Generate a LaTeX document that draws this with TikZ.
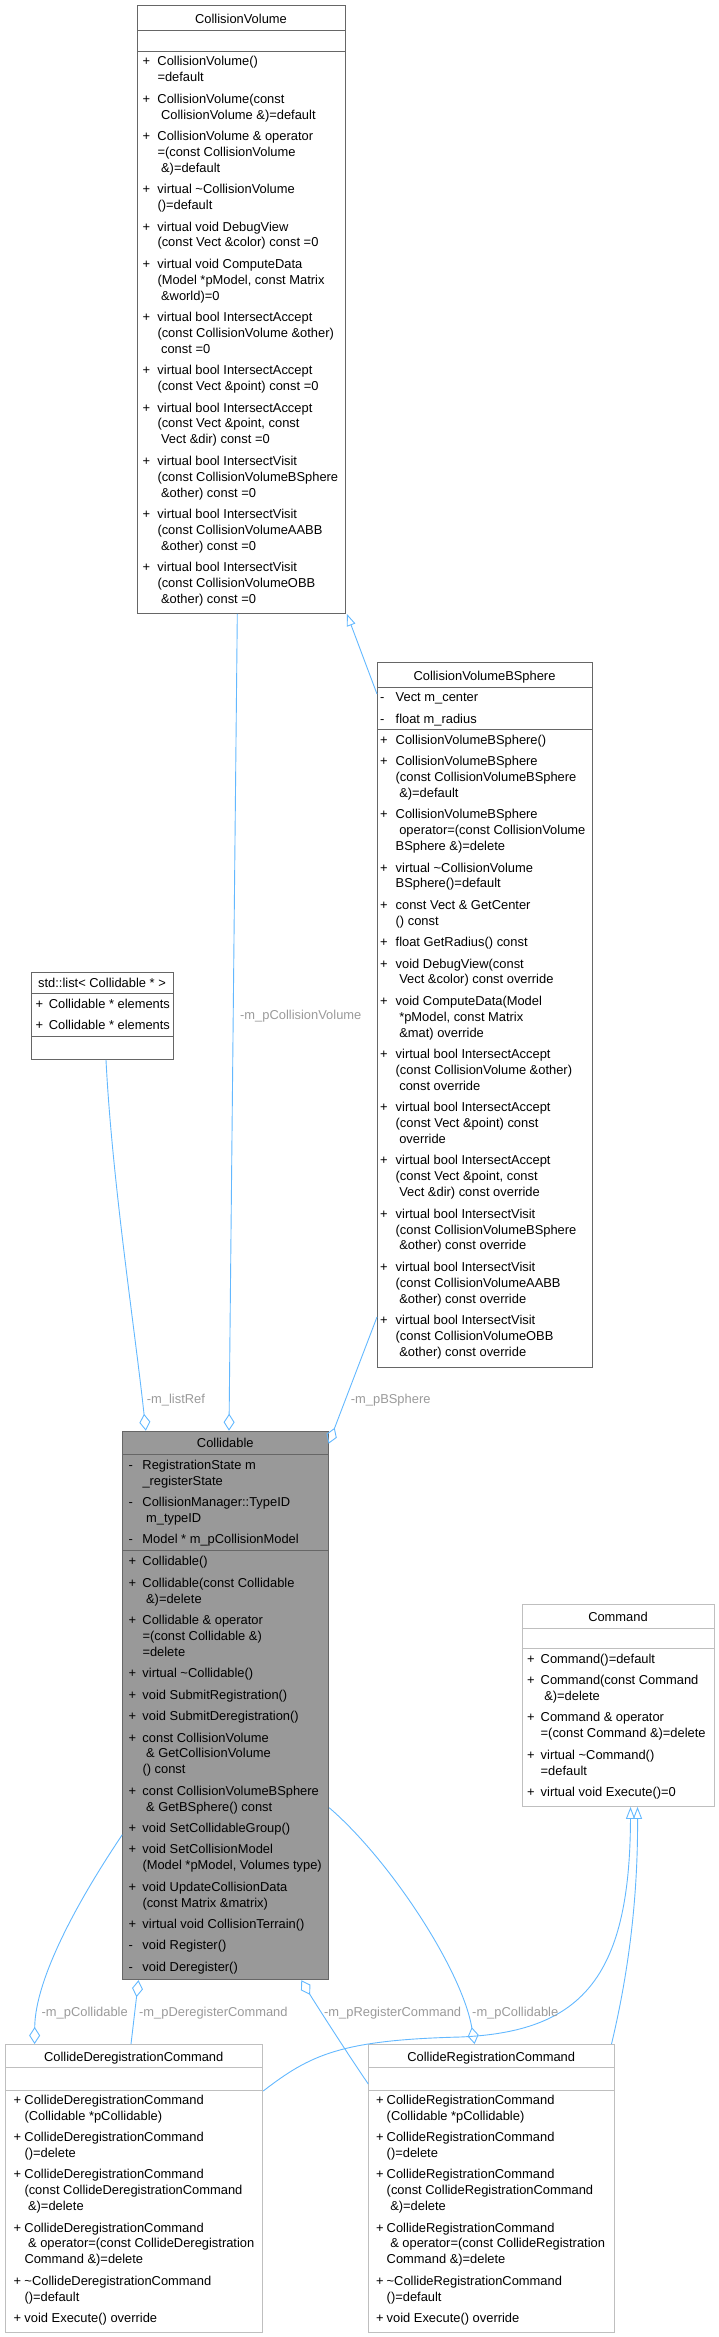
\documentclass[tikz,border=0pt]{standalone}
\usepackage{fontspec}
\setmainfont{Liberation Sans}
\usetikzlibrary{arrows.meta,calc}
\definecolor{eblue}{HTML}{63B8FF}
\definecolor{lgray}{HTML}{9A9A9A}
\definecolor{bdark}{HTML}{666666}
\definecolor{blight}{HTML}{BFBFBF}
\definecolor{fillg}{HTML}{999999}
\newlength\mkw
\newcommand\st{\rule[-4.9pt]{0pt}{15.9pt}}
\newcommand\Lp[1]{\st\makebox[\mkw][l]{+}#1}
\newcommand\Lm[1]{\st\makebox[\mkw][l]{-}#1}
\newcommand\Lc[1]{\st\hspace*{\mkw}#1}
\newcommand\Ls[1]{\st\hspace*{\mkw}\hspace*{3.6pt}#1}
\newcommand\fs{\fontsize{12.9}{15.9}\selectfont}
\begin{document}
\begin{tikzpicture}[x=1pt,y=-1pt,
 every node/.style={font=\fs, inner sep=0pt},
 undoc/.style={draw=bdark, line width=0.9pt, fill=white, anchor=north west},
 docb/.style={draw=blight, line width=0.9pt, fill=white, anchor=north west},
 cur/.style={draw=bdark, line width=0.9pt, fill=fillg, anchor=north west},
 dl/.style={draw=bdark, line width=0.9pt},
 ll/.style={draw=blight, line width=0.9pt},
 sec/.style={align=left, anchor=north west},
 ttl/.style={anchor=base},
 lbl/.style={text=lgray, anchor=base west},
 conn/.style={draw=eblue, line width=0.9pt},
 agg/.style={conn, -{Diamond[open, length=17pt, width=11pt]}},
 inh/.style={conn, -{Triangle[open, length=12pt, width=9pt]}}]
\useasboundingbox (0,0) rectangle (719,2337);

% ---------- CollisionVolume
\node[undoc, minimum width=208pt, minimum height=608pt] (cv) at (137,5) {};
\draw[dl] (137,30) -- (345,30);
\draw[dl] (137,51) -- (345,51);
\node[ttl] (cv-t) at (241,23.5) {CollisionVolume};
\setlength\mkw{15pt}
\node[sec] (cv-m) at (142.3,54.7) {%
\Lp{CollisionVolume()}\\
\Lc{=default}\\[5.5pt]
\Lp{CollisionVolume(const}\\
\Ls{CollisionVolume \&)=default}\\[5.5pt]
\Lp{CollisionVolume \& operator}\\
\Lc{=(const CollisionVolume}\\
\Ls{\&)=default}\\[5.5pt]
\Lp{virtual \textasciitilde CollisionVolume}\\
\Lc{()=default}\\[5.5pt]
\Lp{virtual void DebugView}\\
\Lc{(const Vect \&color) const =0}\\[5.5pt]
\Lp{virtual void ComputeData}\\
\Lc{(Model *pModel, const Matrix}\\
\Ls{\&world)=0}\\[5.5pt]
\Lp{virtual bool IntersectAccept}\\
\Lc{(const CollisionVolume \&other)}\\
\Ls{const =0}\\[5.5pt]
\Lp{virtual bool IntersectAccept}\\
\Lc{(const Vect \&point) const =0}\\[5.5pt]
\Lp{virtual bool IntersectAccept}\\
\Lc{(const Vect \&point, const}\\
\Ls{Vect \&dir) const =0}\\[5.5pt]
\Lp{virtual bool IntersectVisit}\\
\Lc{(const CollisionVolumeBSphere}\\
\Ls{\&other) const =0}\\[5.5pt]
\Lp{virtual bool IntersectVisit}\\
\Lc{(const CollisionVolumeAABB}\\
\Ls{\&other) const =0}\\[5.5pt]
\Lp{virtual bool IntersectVisit}\\
\Lc{(const CollisionVolumeOBB}\\
\Ls{\&other) const =0}};

% ---------- CollisionVolumeBSphere
\node[undoc, minimum width=215pt, minimum height=705pt] (bs) at (377,662) {};
\draw[dl] (377,687) -- (592,687);
\draw[dl] (377,729) -- (592,729);
\node[ttl] (bs-t) at (484.5,680) {CollisionVolumeBSphere};
\setlength\mkw{15.5pt}
\node[sec] (bs-a) at (380,690.7) {%
\Lm{Vect m\_center}\\[5.5pt]
\Lm{float m\_radius}};
\node[sec] (bs-m) at (380,733) {%
\Lp{CollisionVolumeBSphere()}\\[5.5pt]
\Lp{CollisionVolumeBSphere}\\
\Lc{(const CollisionVolumeBSphere}\\
\Ls{\&)=default}\\[5.5pt]
\Lp{CollisionVolumeBSphere}\\
\Ls{operator=(const CollisionVolume}\\
\Lc{BSphere \&)=delete}\\[5.5pt]
\Lp{virtual \textasciitilde CollisionVolume}\\
\Lc{BSphere()=default}\\[5.5pt]
\Lp{const Vect \& GetCenter}\\
\Lc{() const}\\[5.5pt]
\Lp{float GetRadius() const}\\[5.5pt]
\Lp{void DebugView(const}\\
\Ls{Vect \&color) const override}\\[5.5pt]
\Lp{void ComputeData(Model}\\
\Ls{*pModel, const Matrix}\\
\Ls{\&mat) override}\\[5.5pt]
\Lp{virtual bool IntersectAccept}\\
\Lc{(const CollisionVolume \&other)}\\
\Ls{const override}\\[5.5pt]
\Lp{virtual bool IntersectAccept}\\
\Lc{(const Vect \&point) const}\\
\Ls{override}\\[5.5pt]
\Lp{virtual bool IntersectAccept}\\
\Lc{(const Vect \&point, const}\\
\Ls{Vect \&dir) const override}\\[5.5pt]
\Lp{virtual bool IntersectVisit}\\
\Lc{(const CollisionVolumeBSphere}\\
\Ls{\&other) const override}\\[5.5pt]
\Lp{virtual bool IntersectVisit}\\
\Lc{(const CollisionVolumeAABB}\\
\Ls{\&other) const override}\\[5.5pt]
\Lp{virtual bool IntersectVisit}\\
\Lc{(const CollisionVolumeOBB}\\
\Ls{\&other) const override}};

% ---------- std::list
\node[undoc, minimum width=142pt, minimum height=87pt] (ls) at (31,972) {};
\draw[dl] (31,993) -- (173,993);
\draw[dl] (31,1036) -- (173,1036);
\node[ttl] (ls-t) at (102,987.8) {std::list< Collidable * >};
\setlength\mkw{13.3pt}
\node[sec] (ls-a) at (35.3,997.3) {%
\Lp{Collidable * elements}\\[5.5pt]
\Lp{Collidable * elements}};

% ---------- Collidable
\node[cur, minimum width=206pt, minimum height=548.6pt] (co) at (122.3,1430.7) {};
\draw[dl] (122.3,1454.3) -- (328.3,1454.3);
\draw[dl] (122.3,1550) -- (328.3,1550);
\node[ttl] (co-t) at (225.3,1447.9) {Collidable};
\setlength\mkw{13.8pt}
\node[sec] (co-a) at (128.5,1458) {%
\Lm{RegistrationState m}\\
\Lc{\_registerState}\\[5.5pt]
\Lm{CollisionManager::TypeID}\\
\Ls{m\_typeID}\\[5.5pt]
\Lm{Model * m\_pCollisionModel}};
\node[sec] (co-m) at (128.5,1554.7) {%
\Lp{Collidable()}\\[5.5pt]
\Lp{Collidable(const Collidable}\\
\Ls{\&)=delete}\\[5.5pt]
\Lp{Collidable \& operator}\\
\Lc{=(const Collidable \&)}\\
\Lc{=delete}\\[5.5pt]
\Lp{virtual \textasciitilde Collidable()}\\[5.5pt]
\Lp{void SubmitRegistration()}\\[5.5pt]
\Lp{void SubmitDeregistration()}\\[5.5pt]
\Lp{const CollisionVolume}\\
\Ls{\& GetCollisionVolume}\\
\Lc{() const}\\[5.5pt]
\Lp{const CollisionVolumeBSphere}\\
\Ls{\& GetBSphere() const}\\[5.5pt]
\Lp{void SetCollidableGroup()}\\[5.5pt]
\Lp{void SetCollisionModel}\\
\Lc{(Model *pModel, Volumes type)}\\[5.5pt]
\Lp{void UpdateCollisionData}\\
\Lc{(const Matrix \&matrix)}\\[5.5pt]
\Lp{virtual void CollisionTerrain()}\\[5.5pt]
\Lm{void Register()}\\[5.5pt]
\Lm{void Deregister()}};

% ---------- Command
\node[docb, minimum width=192.6pt, minimum height=201.7pt] (cm) at (521.7,1604.3) {};
\draw[ll] (521.7,1628.3) -- (714.3,1628.3);
\draw[ll] (521.7,1648.3) -- (714.3,1648.3);
\node[ttl] (cm-t) at (618,1621.9) {Command};
\setlength\mkw{13.5pt}
\node[sec] (cm-m) at (527,1652) {%
\Lp{Command()=default}\\[5.5pt]
\Lp{Command(const Command}\\
\Ls{\&)=delete}\\[5.5pt]
\Lp{Command \& operator}\\
\Lc{=(const Command \&)=delete}\\[5.5pt]
\Lp{virtual \textasciitilde Command()}\\
\Lc{=default}\\[5.5pt]
\Lp{virtual void Execute()=0}};

% ---------- CollideDeregistrationCommand
\node[docb, minimum width=257.3pt, minimum height=288.3pt] (dr) at (5,2044) {};
\draw[ll] (5,2067.3) -- (262.3,2067.3);
\draw[ll] (5,2090) -- (262.3,2090);
\node[ttl] (dr-t) at (133.7,2061.3) {CollideDeregistrationCommand};
\setlength\mkw{11pt}
\node[sec] (dr-m) at (13.3,2093) {%
\Lp{CollideDeregistrationCommand}\\
\Lc{(Collidable *pCollidable)}\\[5.5pt]
\Lp{CollideDeregistrationCommand}\\
\Lc{()=delete}\\[5.5pt]
\Lp{CollideDeregistrationCommand}\\
\Lc{(const CollideDeregistrationCommand}\\
\Ls{\&)=delete}\\[5.5pt]
\Lp{CollideDeregistrationCommand}\\
\Ls{\& operator=(const CollideDeregistration}\\
\Lc{Command \&)=delete}\\[5.5pt]
\Lp{\textasciitilde CollideDeregistrationCommand}\\
\Lc{()=default}\\[5.5pt]
\Lp{void Execute() override}};

% ---------- CollideRegistrationCommand
\node[docb, minimum width=245.7pt, minimum height=288.3pt] (rg) at (368.3,2044) {};
\draw[ll] (368.3,2067.3) -- (614,2067.3);
\draw[ll] (368.3,2090) -- (614,2090);
\node[ttl] (rg-t) at (491.2,2061.3) {CollideRegistrationCommand};
\setlength\mkw{10.5pt}
\node[sec] (rg-m) at (376,2093) {%
\Lp{CollideRegistrationCommand}\\
\Lc{(Collidable *pCollidable)}\\[5.5pt]
\Lp{CollideRegistrationCommand}\\
\Lc{()=delete}\\[5.5pt]
\Lp{CollideRegistrationCommand}\\
\Lc{(const CollideRegistrationCommand}\\
\Ls{\&)=delete}\\[5.5pt]
\Lp{CollideRegistrationCommand}\\
\Ls{\& operator=(const CollideRegistration}\\
\Lc{Command \&)=delete}\\[5.5pt]
\Lp{\textasciitilde CollideRegistrationCommand}\\
\Lc{()=default}\\[5.5pt]
\Lp{void Execute() override}};

% ---------- connectors
\draw[inh] ($(bs.north west)+(0,32)$) -- ($(cv.south east)+(1,0)$);
\draw[agg] ($(cv.south west)+(100.3,0)$) -- ($(co.north west)+(106.7,0)$);
\draw[agg] ($(ls.south west)+(75,0)$) .. controls (112,1180) and (135,1330) .. ($(co.north west)+(23.5,0)$);
\draw[agg] ($(bs.north west)+(0,655)$) -- ($(co.north east)+(-0.6,13)$);
\draw[agg] ($(co.north west)+(0,404)$) .. controls (85,1890) and (35,1975) .. ($(dr.north west)+(29.6,0)$);
\draw[agg] ($(dr.north west)+(126,0)$) -- ($(co.south west)+(16.2,0)$);
\draw[agg] ($(rg.north west)+(0,40)$) .. controls (345,2050) and (312,1998) .. ($(co.south west)+(179,0)$);
\draw[agg] ($(co.north east)+(0,377)$) .. controls (390,1860) and (462,1970) .. ($(rg.north west)+(106.3,0)$);
\draw[inh] ($(dr.north east)+(0,47)$) .. controls (310,2055) and (340,2040) .. (460,2037) .. controls (580,2032) and (630,1980) .. ($(cm.south west)+(108.8,0)$);
\draw[inh] ($(rg.north east)+(-3.4,0)$) .. controls (628,1975) and (638,1900) .. ($(cm.south west)+(115.8,0)$);

% ---------- labels
\node[lbl] (l1) at (240,1019) {-m\_pCollisionVolume};
\node[lbl] (l2) at (146.7,1403) {-m\_listRef};
\node[lbl] (l3) at (350.7,1403) {-m\_pBSphere};
\node[lbl] (l4) at (41.5,2016.3) {-m\_pCollidable};
\node[lbl] (l5) at (139,2016.3) {-m\_pDeregisterCommand};
\node[lbl] (l6) at (324,2016.3) {-m\_pRegisterCommand};
\node[lbl] (l7) at (472,2016.3) {-m\_pCollidable};
\end{tikzpicture}
\end{document}
